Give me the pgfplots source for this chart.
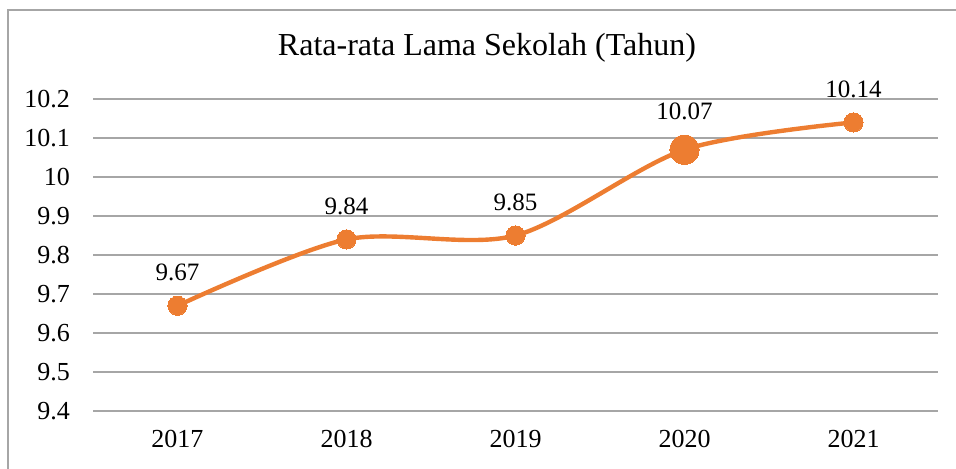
\documentclass[border=0pt]{standalone}
\usepackage{fontspec}
\setmainfont{Liberation Serif}
\usepackage{pgfplots}
\pgfplotsset{compat=1.18}
\definecolor{exorange}{HTML}{ED7D31}
\definecolor{gridgray}{HTML}{A6A6A6}
\begin{document}
\begin{tikzpicture}
  % picture is 956 x 468 px at 0.5pt per px
  \path[use as bounding box] (0,0) rectangle (478pt,234pt);
  \draw[gridgray, line width=0.8pt] (4pt,-2pt) -- (4pt,229pt) -- (480pt,229pt);
  \node[font=\fontsize{16}{19}\selectfont] at (243.5pt,210pt) {Rata-rata Lama Sekolah (Tahun)};
  \begin{axis}[
      at={(46.5pt,28.5pt)}, anchor=south west,
      scale only axis,
      width=422.5pt, height=156pt,
      xmin=-0.5, xmax=4.5,
      ymin=9.4, ymax=10.2,
      xtick={0,1,2,3,4},
      xticklabels={2017,2018,2019,2020,2021},
      ytick={9.4,9.5,...,10.2},
      yticklabel style={/pgf/number format/assume math mode=true, font=\fontsize{13}{15}\selectfont, xshift=-8pt},
      xticklabel style={font=\fontsize{13}{15}\selectfont, yshift=-6pt},
      axis line style={draw=none},
      major tick length=0pt,
      ymajorgrids,
      grid style={gridgray, line width=0.75pt},
      clip=false,
    ]
    \addplot[exorange, line width=2.2pt, smooth, tension=0.5,
      mark=*, mark size=4.8pt, mark options={fill=exorange, draw=exorange, line width=0pt},
      nodes near coords, point meta=explicit symbolic,
      nodes near coords style={font=\fontsize{12.5}{15}\selectfont, text=black, yshift=9pt}]
      coordinates {
        (0,9.67) [9.67]
        (1,9.84) [9.84]
        (2,9.85) [9.85]
        (3,10.07) []
        (4,10.14) [10.14]
      };
    \addplot[only marks, mark=*, mark size=7.3pt, exorange,
      mark options={fill=exorange, draw=exorange, line width=0pt},
      nodes near coords, point meta=explicit symbolic,
      nodes near coords style={font=\fontsize{12.5}{15}\selectfont, text=black, yshift=11.5pt}]
      coordinates {(3,10.07) [10.07]};
  \end{axis}
\end{tikzpicture}
\end{document}
